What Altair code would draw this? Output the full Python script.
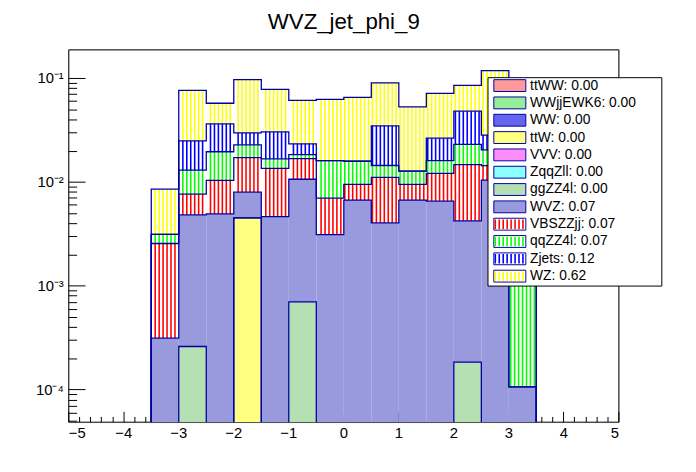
import altair as alt
import pandas as pd

# ---------------- data ----------------
title_text = "WVZ_jet_phi_9"
bin_edges = [-3.5, -3.0, -2.5, -2.0, -1.5, -1.0, -0.5, 0.0, 0.5, 1.0, 1.5, 2.0, 2.5, 3.0, 3.5]

# stacking order: bottom -> top (same as legend order)
categories = ["ttWW", "WWjjEWK6", "WW", "ttW", "VVV", "ZqqZll", "ggZZ4l",
              "WVZ", "VBSZZjj", "qqZZ4l", "Zjets", "WZ"]
legend_labels = ["ttWW: 0.00", "WWjjEWK6: 0.00", "WW: 0.00", "ttW: 0.00",
                 "VVV: 0.00", "ZqqZll: 0.00", "ggZZ4l: 0.00", "WVZ: 0.07",
                 "VBSZZjj: 0.07", "qqZZ4l: 0.07", "Zjets: 0.12", "WZ: 0.62"]

ttWW     = [0, 0, 0, 0, 0, 0, 0, 0, 0, 0, 0, 0, 0, 0]
WWjjEWK6 = [0, 0, 0, 0, 0, 0, 0, 0, 0, 0, 0, 0, 0, 0]
WW       = [0, 0, 0, 0, 0, 0, 0, 0, 0, 0, 0, 0, 0, 0]
ttW      = [0, 0, 0, 4.54e-3, 0, 0, 0, 0, 0, 0, 0, 0, 0, 0]
VVV      = [0, 0, 0, 0, 0, 0, 0, 0, 0, 0, 0, 0, 0, 0]
ZqqZll   = [0, 0, 0, 0, 0, 0, 0, 0, 0, 0, 0, 0, 0, 0]
ggZZ4l   = [0, 2.62e-4, 0, 0, 0, 7.05e-4, 0, 0, 0, 0, 0, 1.85e-4, 0, 0]
WVZ      = [3.15e-4, 4.59e-3, 4.96e-3, 3.49e-3, 4.68e-3, 1.00e-2, 3.13e-3,
            6.74e-3, 4.07e-3, 6.74e-3, 6.59e-3, 4.07e-3, 1.05e-2, 1.07e-4]
VBSZZjj  = [2.26e-3, 2.84e-3, 5.49e-3, 9.27e-3, 8.92e-3, 6.20e-3, 3.91e-3,
            2.83e-3, 7.10e-3, 2.83e-3, 5.60e-3, 1.058e-2, 4.0e-3, 0]
qqZZ4l   = [5.8e-4, 5.41e-3, 9.25e-3, 5.70e-3, 3.20e-3, 1.60e-3, 9.16e-3,
            6.39e-3, 3.35e-3, 3.25e-3, 4.03e-3, 8.34e-3, 6.0e-3, 4.0e-3]
Zjets    = [0, 1.20e-2, 1.68e-2, 6.90e-3, 1.38e-2, 5.00e-3, 0,
            0, 2.04e-2, 0, 1.04e-2, 2.53e-2, 8.0e-3, 3.0e-3]
WZ       = [5.43e-3, 5.18e-2, 2.13e-2, 6.79e-2, 4.80e-2, 3.82e-2, 4.69e-2,
            5.00e-2, 5.59e-2, 4.05e-2, 4.53e-2, 3.73e-2, 9.05e-2, 2.1e-2]

series = [ttWW, WWjjEWK6, WW, ttW, VVV, ZqqZll, ggZZ4l, WVZ, VBSZZjj, qqZZ4l, Zjets, WZ]

x_tick_labels = [-5, -4, -3, -2, -1, 0, 1, 2, 3, 4, 5]
y_tick_labels = {0.0001: "10\u207b\u2074", 0.001: "10\u207b\u00b3", 0.01: "10\u207b\u00b2", 0.1: "10\u207b\u00b9"}

# ---------------- styles ----------------
NAVY = "#0000a0"
fill_colors = ["#ff9a9a", "#98ee98", "#6464ee", "#ffff80", "#ff8cff", "#8cffff",
               "#b4e0b4", "#9999dd", "white", "white", "white", "white"]
hatch_colors = ["transparent"] * 8 + ["#ff0000", "#00ff00", "#0000ff", "#ffff00"]
hatched = {"VBSZZjj", "qqZZ4l", "Zjets", "WZ"}
YMIN, YMAX = 4.89e-5, 0.189
W, H = 557, 377
FONT = "Liberation Sans"
HATCH_W = 1.6

# ---------------- derived tables ----------------
fill_rows, hatch_rows, line_rows = [], [], []
cum = [0.0] * 14
seg = 0
for cat, lab, vals in zip(categories, legend_labels, series):
    new = [c + v for c, v in zip(cum, vals)]
    for i in range(14):
        if vals[i] > 0:
            row = dict(x0=bin_edges[i], x1=bin_edges[i + 1],
                       lo=max(cum[i], YMIN), hi=new[i], cat=lab, hcat=lab)
            fill_rows.append(row)
            if cat in hatched:
                hatch_rows.append(row)
    if any(v > 0 for v in vals):
        i = 0
        while i < 14:
            if new[i] > 0:
                k = 0
                line_rows.append(dict(px=bin_edges[i], py=YMIN, seg=seg, k=k)); k += 1
                while i < 14 and new[i] > 0:
                    line_rows.append(dict(px=bin_edges[i], py=new[i], seg=seg, k=k)); k += 1
                    line_rows.append(dict(px=bin_edges[i + 1], py=new[i], seg=seg, k=k)); k += 1
                    i += 1
                line_rows.append(dict(px=bin_edges[i], py=YMIN, seg=seg, k=k))
                seg += 1
            else:
                i += 1
    cum = new

fill_df = pd.DataFrame(fill_rows)
hatch_df = pd.DataFrame(hatch_rows)
line_df = pd.DataFrame(line_rows)
title_df = pd.DataFrame({"t": [title_text]})

xs = alt.Scale(domain=[-5, 5], nice=False, zero=False)
ys = alt.Scale(type="log", domain=[YMIN, YMAX], nice=False)

x_minor = [round(-5 + 0.2 * i, 1) for i in range(51)]
y_minor = []
for e in range(-5, 0):
    for m in range(1, 10):
        v = float(f"{m}e{e}")
        if YMIN <= v <= YMAX:
            y_minor.append(v)

label_expr = " : ".join(
    f"datum.value == {v} ? '{t}'" for v, t in y_tick_labels.items()) + " : ''"

frame_style = dict(domain=True, domainColor="black", domainWidth=1, grid=False, title=None,
                   translate=0)

x_label_axis = alt.Axis(values=x_tick_labels, ticks=False, tickSize=0, **frame_style,
                        labelFont=FONT, labelFontSize=15, labelColor="black", labelPadding=4,
                        format="d")
y_label_axis = alt.Axis(values=list(y_tick_labels.keys()), ticks=False, tickSize=0, **frame_style,
                        labelFont=FONT, labelFontSize=15, labelColor="black",
                        labelPadding=5, labelExpr=label_expr)
x_tick_axis = alt.Axis(orient="top", offset=-H, values=x_minor, labels=False, domain=False,
                       grid=False, tickColor="black", tickWidth=1, title=None, translate=0,
                       tickSize={"condition": {"test": "abs(datum.value - round(datum.value)) < 1e-6",
                                               "value": 10.5}, "value": 5.3})
y_tick_axis = alt.Axis(orient="right", offset=-W, values=y_minor, labels=False, domain=False,
                       grid=False, tickColor="black", tickWidth=1, title=None, translate=0,
                       tickSize={"condition": {"test": "abs(log(datum.value)/LN10 - round(log(datum.value)/LN10)) < 1e-6",
                                               "value": 17}, "value": 8.5})
x_frame_axis = alt.Axis(orient="top", ticks=False, labels=False, values=[], **frame_style)
y_frame_axis = alt.Axis(orient="right", ticks=False, labels=False, values=[], **frame_style)

STRIPES = " ".join(f"M{(-1 + 0.333 + 0.6667 * j):.3f},-0.8V0.8" for j in range(8))
FRAME = "M-1,-1H4.4V1H-1Z"

legend_common = dict(orient="none", legendX=424, legendY=27.7, title=None, padding=1.5,
                     symbolSize=144, labelFont=FONT, labelFontSize=14,
                     rowPadding=1.54, labelLimit=400)

# box + swatch frames (no label text; the offset only sets the box width)
legendA = alt.Legend(**legend_common, symbolType=FRAME, symbolStrokeColor=NAVY,
                     symbolStrokeWidth=1, symbolOffset=3.9, labelOffset=155,
                     labelExpr="''", labelColor="transparent", fillColor="white",
                     strokeColor="black", cornerRadius=0, zindex=1)
# hatch stripes + visible labels
legendB = alt.Legend(**legend_common, symbolType=STRIPES, symbolStrokeWidth=HATCH_W,
                     symbolOffset=3.4, labelOffset=24.2,
                     symbolFillColor="transparent", labelColor="black", zindex=2)

fills = alt.Chart(fill_df).mark_rect(clip=True).encode(
    x=alt.X("x0:Q", scale=xs, axis=x_label_axis),
    x2="x1:Q",
    y=alt.Y("lo:Q", scale=ys, axis=y_label_axis),
    y2="hi:Q",
    fill=alt.Fill("cat:N", scale=alt.Scale(domain=legend_labels, range=fill_colors),
                  legend=legendA),
)

hatch = alt.Chart(hatch_df).transform_calculate(
    hx="sequence(ceil(datum.x0 / 0.0718) * 0.0718 + 0.018, datum.x1, 0.0718)"
).transform_flatten(["hx"]).mark_rule(strokeWidth=HATCH_W, clip=True).encode(
    x=alt.X("hx:Q", scale=xs, axis=x_tick_axis),
    y=alt.Y("lo:Q", scale=ys, axis=y_tick_axis),
    y2="hi:Q",
    stroke=alt.Stroke("hcat:N", scale=alt.Scale(domain=legend_labels, range=hatch_colors),
                      legend=legendB),
)

outline = alt.Chart(line_df).mark_line(color=NAVY, strokeWidth=1.3, clip=True).encode(
    x=alt.X("px:Q", scale=xs, axis=x_frame_axis),
    y=alt.Y("py:Q", scale=ys, axis=y_frame_axis),
    detail="seg:N",
    order="k:Q",
)

title = alt.Chart(title_df).mark_text(font=FONT, fontSize=22.5, color="black", align="center",
                                      baseline="alphabetic").encode(
    text="t:N", x=alt.value(W / 2), y=alt.value(-21)
)

chart = alt.layer(fills, hatch, outline, title).resolve_scale(
    x="shared", y="shared", fill="independent", stroke="independent"
).resolve_axis(x="independent", y="independent").properties(
    width=W, height=H,
    padding={"left": 61.5, "top": 39.5, "right": 70, "bottom": 40},
    autosize=alt.AutoSizeParams(type="none"),
).configure_view(stroke="black", strokeWidth=1).configure(background="white")

chart.save("out.html", embed_options={"renderer": "svg", "actions": False})
